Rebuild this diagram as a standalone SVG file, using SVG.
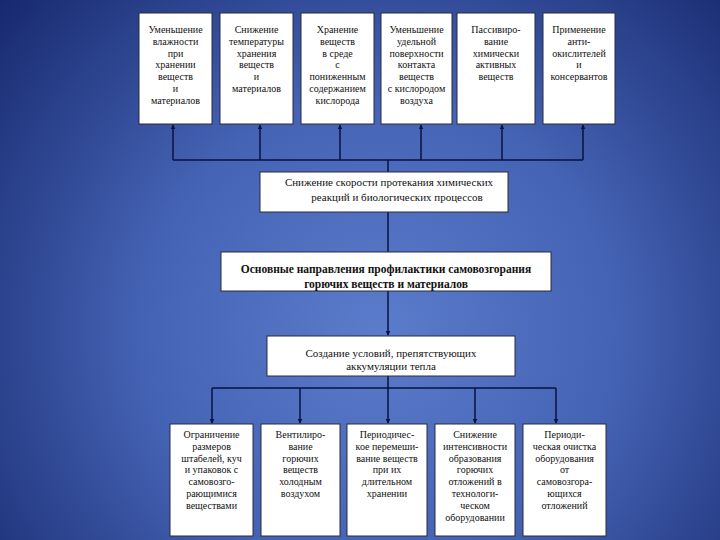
<svg xmlns="http://www.w3.org/2000/svg" width="720" height="540" viewBox="0 0 720 540">
<defs>
<radialGradient id="bg" cx="380" cy="330" r="520" gradientUnits="userSpaceOnUse">
<stop offset="0" stop-color="#5b7bcb"/>
<stop offset="0.45" stop-color="#4563b4"/>
<stop offset="1" stop-color="#14256a"/>
</radialGradient>
<marker id="ah" viewBox="0 0 8 8" refX="7" refY="4" markerWidth="5" markerHeight="5" orient="auto" markerUnits="userSpaceOnUse">
<path d="M0,0 L8,4 L0,8 z" fill="#0a1240"/>
</marker>
<style>
.box{fill:#ffffff;stroke:#2a2a3a;stroke-width:1}
.t{font-family:"Liberation Serif","DejaVu Serif",serif;font-size:10px;fill:#111;text-anchor:middle}
.m{font-family:"Liberation Serif","DejaVu Serif",serif;font-size:11px;fill:#111;text-anchor:middle}
.b{font-family:"Liberation Serif","DejaVu Serif",serif;font-size:11.5px;font-weight:bold;fill:#111;text-anchor:middle}
.c{stroke:#0a1240;stroke-width:1.5;fill:none}
.a{stroke:#0a1240;stroke-width:1.5;fill:none;marker-end:url(#ah)}
</style>
</defs>
<rect x="0" y="0" width="720" height="540" fill="url(#bg)"/>

<g id="connectors">
<line class="c" x1="173" y1="160" x2="583" y2="160"/>
<line class="a" x1="173" y1="160" x2="173" y2="125"/>
<line class="a" x1="260" y1="160" x2="260" y2="125"/>
<line class="a" x1="340" y1="160" x2="340" y2="125"/>
<line class="a" x1="421" y1="160" x2="421" y2="125"/>
<line class="a" x1="502" y1="160" x2="502" y2="125"/>
<line class="a" x1="583" y1="160" x2="583" y2="125"/>
<line class="c" x1="388" y1="160" x2="388" y2="172"/>
<line class="c" x1="388" y1="212" x2="388" y2="252"/>
<line class="a" x1="388" y1="291" x2="388" y2="335"/>
<line class="c" x1="388" y1="376" x2="388" y2="388"/>
<line class="c" x1="212" y1="388" x2="556" y2="388"/>
<line class="a" x1="212" y1="388" x2="212" y2="423"/>
<line class="a" x1="300" y1="388" x2="300" y2="423"/>
<line class="a" x1="388" y1="388" x2="388" y2="423"/>
<line class="a" x1="475" y1="388" x2="475" y2="423"/>
<line class="a" x1="556" y1="388" x2="556" y2="423"/>
</g>

<g id="top1">
<rect class="box" x="139" y="13" width="73" height="111"/>
<text class="t" x="175.5" y="33">Уменьшение</text>
<text class="t" x="175.5" y="44.8">влажности</text>
<text class="t" x="175.5" y="56.6">при</text>
<text class="t" x="175.5" y="68.4">хранении</text>
<text class="t" x="175.5" y="80.2">веществ</text>
<text class="t" x="175.5" y="92">и</text>
<text class="t" x="175.5" y="103.8">материалов</text>
</g>
<g id="top2">
<rect class="box" x="220" y="13" width="73" height="111"/>
<text class="t" x="256.5" y="33">Снижение</text>
<text class="t" x="256.5" y="44.8">температуры</text>
<text class="t" x="256.5" y="56.6">хранения</text>
<text class="t" x="256.5" y="68.4">веществ</text>
<text class="t" x="256.5" y="80.2">и</text>
<text class="t" x="256.5" y="92">материалов</text>
</g>
<g id="top3">
<rect class="box" x="301" y="13" width="73" height="111"/>
<text class="t" x="337.5" y="33">Хранение</text>
<text class="t" x="337.5" y="44.8">веществ</text>
<text class="t" x="337.5" y="56.6">в среде</text>
<text class="t" x="337.5" y="68.4">с</text>
<text class="t" x="337.5" y="80.2">пониженным</text>
<text class="t" x="337.5" y="92">содержанием</text>
<text class="t" x="337.5" y="103.8">кислорода</text>
</g>
<g id="top4">
<rect class="box" x="381" y="13" width="71" height="111"/>
<text class="t" x="416.5" y="33">Уменьшение</text>
<text class="t" x="416.5" y="44.8">удельной</text>
<text class="t" x="416.5" y="56.6">поверхности</text>
<text class="t" x="416.5" y="68.4">контакта</text>
<text class="t" x="416.5" y="80.2">веществ</text>
<text class="t" x="416.5" y="92">с кислородом</text>
<text class="t" x="416.5" y="103.8">воздуха</text>
</g>
<g id="top5">
<rect class="box" x="457" y="13" width="78" height="111"/>
<text class="t" x="496" y="33">Пассивиро-</text>
<text class="t" x="496" y="44.8">вание</text>
<text class="t" x="496" y="56.6">химически</text>
<text class="t" x="496" y="68.4">активных</text>
<text class="t" x="496" y="80.2">веществ</text>
</g>
<g id="top6">
<rect class="box" x="543" y="13" width="72" height="111"/>
<text class="t" x="579" y="33">Применение</text>
<text class="t" x="579" y="44.8">анти-</text>
<text class="t" x="579" y="56.6">окислителей</text>
<text class="t" x="579" y="68.4">и</text>
<text class="t" x="579" y="80.2">консервантов</text>
</g>

<g id="reduce">
<rect class="box" x="260" y="172" width="248" height="40"/>
<text class="m" x="389" y="186">Снижение скорости протекания химических</text>
<text class="m" x="397" y="201">реакций и биологических процессов</text>
</g>
<g id="main">
<rect class="box" x="221" y="252" width="330" height="39"/>
<text class="b" x="386" y="273">Основные направления профилактики самовозгорания</text>
<text class="b" x="386" y="287.5">горючих веществ и материалов</text>
</g>
<g id="heat">
<rect class="box" x="267" y="336" width="248" height="40"/>
<text class="m" x="391" y="357">Создание условий, препятствующих</text>
<text class="m" x="391" y="370">аккумуляции тепла</text>
</g>

<g id="bot1">
<rect class="box" x="170" y="424" width="83" height="112"/>
<text class="t" x="211.5" y="438">Ограничение</text>
<text class="t" x="211.5" y="449.8">размеров</text>
<text class="t" x="211.5" y="461.6">штабелей, куч</text>
<text class="t" x="211.5" y="473.4">и упаковок с</text>
<text class="t" x="211.5" y="485.2">самовозго-</text>
<text class="t" x="211.5" y="497">рающимися</text>
<text class="t" x="211.5" y="508.8">веществами</text>
</g>
<g id="bot2">
<rect class="box" x="261" y="424" width="79" height="112"/>
<text class="t" x="300.5" y="438">Вентилиро-</text>
<text class="t" x="300.5" y="449.8">вание</text>
<text class="t" x="300.5" y="461.6">горючих</text>
<text class="t" x="300.5" y="473.4">веществ</text>
<text class="t" x="300.5" y="485.2">холодным</text>
<text class="t" x="300.5" y="497">воздухом</text>
</g>
<g id="bot3">
<rect class="box" x="347" y="424" width="80" height="112"/>
<text class="t" x="387" y="438">Периодичес-</text>
<text class="t" x="387" y="449.8">кое перемеши-</text>
<text class="t" x="387" y="461.6">вание веществ</text>
<text class="t" x="387" y="473.4">при их</text>
<text class="t" x="387" y="485.2">длительном</text>
<text class="t" x="387" y="497">хранении</text>
</g>
<g id="bot4">
<rect class="box" x="435" y="424" width="80" height="112"/>
<text class="t" x="475" y="438">Снижение</text>
<text class="t" x="475" y="449.8">интенсивности</text>
<text class="t" x="475" y="461.6">образования</text>
<text class="t" x="475" y="473.4">горючих</text>
<text class="t" x="475" y="485.2">отложений  в</text>
<text class="t" x="475" y="497">технологи-</text>
<text class="t" x="475" y="508.8">ческом</text>
<text class="t" x="475" y="520.6">оборудовании</text>
</g>
<g id="bot5">
<rect class="box" x="523" y="424" width="83" height="112"/>
<text class="t" x="564.5" y="438">Периоди-</text>
<text class="t" x="564.5" y="449.8">ческая очистка</text>
<text class="t" x="564.5" y="461.6">оборудования</text>
<text class="t" x="564.5" y="473.4">от</text>
<text class="t" x="564.5" y="485.2">самовозгора-</text>
<text class="t" x="564.5" y="497">ющихся</text>
<text class="t" x="564.5" y="508.8">отложений</text>
</g>
</svg>
